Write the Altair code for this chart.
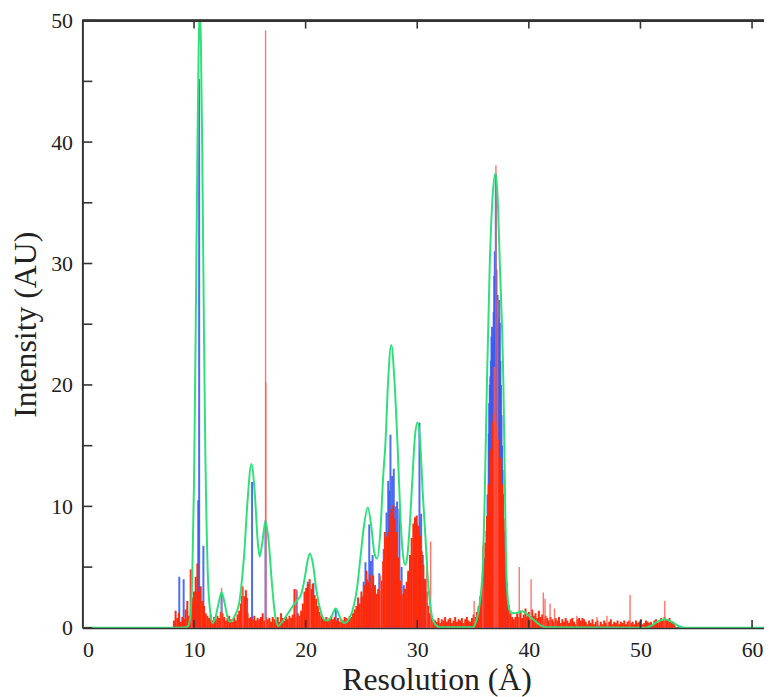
import altair as alt
import pandas as pd

# ---------------- data ----------------
# green smoothed envelope
green_x = [0, 8.5, 9.3, 9.5, 9.7, 9.85, 10.0, 10.15, 10.3, 10.42, 10.52, 10.62, 10.74, 10.89, 11.0,
           11.23, 11.44, 11.65, 11.9, 12.2, 12.47, 12.75, 13.0, 13.25, 13.6, 14.04, 14.3, 14.49,
           14.8, 15.14, 15.45, 15.7, 15.88, 16.1, 16.41, 16.7, 16.95, 17.2, 17.55, 17.9, 18.5,
           19.14, 19.58, 19.9, 20.15, 20.38, 20.65, 20.95, 21.3, 21.66, 22.0, 22.3, 22.7, 23.1,
           23.45, 23.8, 24.2, 24.6, 24.9, 25.2, 25.57, 25.9, 26.15, 26.4, 26.7, 26.95, 27.14,
           27.4, 27.67, 27.95, 28.24, 28.5, 28.7, 28.92, 29.1, 29.3, 29.55, 29.8, 30.02, 30.25,
           30.5, 30.7, 30.95, 31.15, 31.35, 31.6, 32.0, 35.0, 35.3, 35.6, 35.9, 36.05, 36.24,
           36.5, 36.75, 37.0, 37.2, 37.4, 37.72, 37.85, 37.95, 38.1, 38.3, 38.6, 39.0, 39.4,
           40.0, 40.5, 40.9, 41.5, 50.4, 51.0, 51.6, 52.2, 52.8, 53.4, 54.0, 61.07]
green_y = [0, 0, 0.05, 0.2, 1.3, 4.6, 12.0, 24.5, 39.0, 48.0, 51.0, 48.0, 39.0, 24.5, 15.5,
           4.6, 1.4, 0.4, 0.8, 2.0, 2.94, 2.0, 0.9, 0.5, 0.9, 2.0, 4.0, 6.0,
           10.5, 13.5, 11.0, 7.2, 5.86, 6.9, 8.77, 7.0, 4.0, 1.5, 0.15, 0.5, 1.3,
           2.18, 2.72, 4.0, 5.4, 6.13, 5.3, 3.2, 1.5, 0.68, 0.6, 0.9, 1.6, 0.8,
           0.4, 0.6, 1.4, 3.2, 5.7, 8.2, 9.9, 8.2, 6.2, 5.7, 8.0, 12.5, 15.0,
           20.5, 23.3, 20.5, 15.0, 9.0, 6.2, 5.2, 5.8, 8.0, 12.0, 15.8, 16.9, 15.5,
           11.0, 8.0, 4.0, 2.0, 0.8, 0.3, 0.05, 0.05, 0.6, 2.0, 5.5, 11.0, 20.0,
           30.0, 35.5, 37.4, 35.5, 30.0, 20.0, 12.0, 6.0, 2.5, 1.4, 1.2, 1.25, 1.36,
           1.0, 0.6, 0.3, 0.05, 0, 0.2, 0.55, 0.7, 0.5, 0.15, 0, 0]

# red histogram body, sampled on a 0.15 grid per segment (start, values)
red_segments = [
    (8.2, [0.6, 1.4, 0.8, 1.2, 0.5, 0.9, 0.7, 1.5, 2.2, 1.0,
           4.8, 2.5, 3.0, 4.2, 5.3, 3.0, 3.4, 2.2, 1.8, 1.2,
           1.0, 0.8, 1.1, 0.6, 0.9, 0.7, 1.0, 0.8, 1.3, 1.2,
           0.9, 0.6, 0.8, 1.0, 0.7, 0.5, 0.9, 0.6, 1.1, 1.4,
           2.0, 3.4, 2.6, 3.1, 1.2, 0.8, 0.9, 0.7, 1.0, 0.6,
           0.8, 0.7, 0.9, 1.2, 0.6, 0.9, 0.7, 0.8, 0.5, 0.9,
           0.7, 0.6, 0.9, 0.5, 1.2, 0.8, 0.6, 0.9, 0.7, 1.0,
           0.8, 1.1, 3.2, 0.9, 1.2, 1.0, 1.4, 2.0, 3.0, 3.3,
           3.6, 4.0, 3.2, 3.6, 2.7, 2.4, 1.8, 1.3, 1.0, 0.8,
           0.7, 0.9, 0.6, 0.8, 1.0, 0.7, 0.9, 0.6, 0.8, 0.5,
           0.7, 0.6, 0.9, 0.8, 0.7, 1.0, 0.9, 1.2, 1.5]),
    (24.55, [1.8, 2.5, 2.0, 3.0, 2.6, 3.5, 4.7, 3.8, 4.4, 3.3,
             4.3, 3.5, 2.8, 3.2, 3.0, 3.9, 5.5, 7.9, 7.5, 7.9,
             9.5, 9.8, 10.1, 9.0, 7.9, 5.8, 3.9, 2.6, 2.8, 3.2,
             3.8, 4.7, 6.0, 7.4, 8.6, 9.1, 9.25, 8.4, 7.6, 6.3,
             5.2, 4.0, 3.0, 1.8, 1.2, 0.9, 0.7, 0.6]),
    (31.75, [0.5, 0.8, 0.4, 0.7, 0.6, 0.9, 0.5, 0.7, 0.8, 0.4, 0.6, 0.9,
             0.5, 0.7, 0.6, 0.8, 0.4, 0.7, 0.9, 0.6, 0.5, 0.8, 1.1]),
    (35.2, [0.9, 1.3, 1.8, 2.6, 3.8, 5.3, 7.0, 9.2, 11.8, 14.7, 17.0, 17.6, 17.0,
            16.6, 15.5, 14.0, 11.8, 9.0, 6.3, 3.7, 1.9, 1.2, 0.9, 0.7, 0.9]),
    (38.95, [1.2, 0.9, 1.4, 0.8, 1.1, 1.6, 0.9, 1.3, 0.7, 1.5,
             1.0, 1.2, 0.8, 1.4, 0.9, 1.1, 0.7, 1.0, 0.8, 0.6,
             0.9, 0.7, 0.5, 0.8, 0.6, 0.9, 0.4, 0.7, 0.5, 0.8,
             0.6, 0.4, 0.7, 0.8, 0.5, 0.3, 0.7, 0.8, 0.6, 0.8,
             0.7, 0.5, 0.3, 0.6, 0.4, 0.7, 0.3, 0.5, 0.6, 0.2,
             0.5, 0.3, 0.6, 0.4, 0.2, 0.5, 0.7, 0.3, 0.5, 0.4,
             0.6, 0.3, 0.5, 0.4, 0.6, 0.3, 0.5, 0.6, 0.4, 0.5,
             0.3, 0.6, 0.4, 0.5, 0.7, 0.3, 0.4, 0.6, 0.5, 0.4,
             0.5, 0.3, 0.6, 0.7, 0.4, 0.5, 0.8, 0.6, 0.9, 0.7,
             0.6, 0.8, 0.5, 0.4, 0.3]),
]
red_step = 0.15

# red isolated spikes (x, height)
red_spike_x = [9.75, 12.47, 14.35, 16.41, 16.43, 19.14, 20.4, 26.7, 30.85, 31.2, 35.1, 35.88,
               36.9, 37.05, 37.2, 39.14, 40.2, 41.3, 41.45, 41.9, 42.3, 44.3, 46.1, 47.0,
               49.07, 52.18]
red_spike_y = [4.8, 3.3, 3.4, 49.2, 20.2, 3.2, 4.0, 4.3, 6.2, 7.1, 2.2, 6.8,
               21.5, 38.1, 27.0, 5.0, 4.0, 2.9, 2.4, 2.0, 1.6, 1.0, 0.9, 1.0,
               2.7, 2.2]

# blue bars (x, height)
blue_x = [8.68, 9.07, 9.75, 10.2, 10.38, 10.46, 10.55, 10.84, 12.47, 14.3, 14.76, 15.2, 16.41,
          19.2, 20.2, 20.7, 21.0, 22.7,
          25.0, 25.2, 25.36, 25.5, 25.7, 25.85, 26.0, 26.2, 26.6, 27.0, 27.25, 27.4, 27.5,
          27.6, 27.75, 27.9, 28.05, 28.2, 28.4, 28.6, 28.8, 29.2, 29.5, 29.7, 29.95, 30.2,
          30.35, 30.5, 30.7, 30.9, 31.1,
          35.5, 35.8, 36.0, 36.2, 36.3, 36.4, 36.45, 36.5, 36.55, 36.6, 36.65, 36.7, 36.75,
          36.8, 36.85, 36.9, 36.95, 37.04, 37.1, 37.15, 37.2, 37.25, 37.3, 37.35, 37.4,
          37.45, 37.5, 37.55, 37.6, 37.65, 37.7, 37.8, 37.95, 38.1, 39.1, 39.9, 40.3, 52.2]
blue_y = [4.2, 4.0, 3.8, 3.0, 10.5, 45.2, 3.4, 6.75, 2.9, 2.6, 2.45, 12.0, 8.85,
          3.1, 3.8, 3.7, 1.2, 1.6,
          2.5, 3.8, 5.4, 4.0, 8.5, 5.5, 6.0, 3.5, 4.5, 6.5, 9.5, 12.1, 11.3,
          15.9, 12.5, 13.1, 10.0, 10.4, 9.8, 5.0, 3.5, 4.5, 6.0, 7.5, 8.6, 16.9,
          9.4, 6.0, 4.0, 2.0, 1.0,
          1.6, 3.0, 5.7, 8.0, 11.0, 16.0, 18.5, 20.0, 20.7, 22.0, 24.0, 24.8, 23.5,
          22.5, 26.0, 29.0, 31.0, 37.4, 29.5, 26.0, 27.4, 25.5, 24.5, 27.0, 25.1,
          22.0, 20.0, 17.5, 15.0, 13.0, 11.0, 8.0, 3.5, 1.6, 0.8, 1.2, 0.8, 0.7]

# axis ticks
x_major = [0, 10, 20, 30, 40, 50, 60]
x_inner_ticks = [10, 20, 30, 40, 50, 60]
y_major = [0, 10, 20, 30, 40, 50]
y_inner_ticks = [0, 5, 10, 15, 20, 25, 30, 35, 40, 45, 50]

# ---------------- build tables ----------------
red_rows = []
for start, vals in red_segments:
    for i, v in enumerate(vals):
        red_rows.append({"x": round(start + i * red_step, 3), "y": v})
red_df = pd.DataFrame(red_rows)
spike_df = pd.DataFrame({"x": red_spike_x, "y": red_spike_y})
blue_df = pd.DataFrame({"x": blue_x, "y": blue_y})
green_df = pd.DataFrame({"x": green_x, "y": green_y})
ytick_df = pd.DataFrame({"y": y_inner_ticks})
xtick_df = pd.DataFrame({"x": x_inner_ticks})

W, H = 687, 612
XMAX = 61.07
FONT = "Liberation Serif"
AXC = "#333333"

xs = alt.Scale(domain=[0, XMAX], nice=False, zero=False)
ys = alt.Scale(domain=[0, 50], nice=False)

x_axis = alt.Axis(values=x_major, format="d", title="Resolution (Å)", grid=False,
                  ticks=False, domainColor=AXC, domainWidth=2, labelFont=FONT,
                  labelFontSize=22, labelColor="#222222", labelPadding=12,
                  titleFont=FONT, titleFontSize=32, titleFontWeight="normal",
                  titleColor="#222222", titleX=357, titleY=62,
                  titleBaseline="alphabetic", titleAnchor="middle")
y_axis = alt.Axis(values=y_major, format="d", title="Intensity (AU)", grid=False,
                  ticks=False, domainColor=AXC, domainWidth=2, labelFont=FONT,
                  labelFontSize=22, labelColor="#222222", labelPadding=10,
                  titleFont=FONT, titleFontSize=32, titleFontWeight="normal",
                  titleColor="#222222", titleX=-47, titleY=306,
                  titleBaseline="alphabetic", titleAnchor="middle")

base_x = alt.X("x:Q", scale=xs, axis=x_axis)
base_y = alt.Y("y:Q", scale=ys, axis=y_axis)

blue = alt.Chart(blue_df).mark_rule(color="#3b5cf0", strokeWidth=2, opacity=0.9, clip=True).encode(
    x=base_x, y=base_y, y2=alt.datum(0))
red = alt.Chart(red_df).mark_rule(color="#ff2a0a", strokeWidth=2, clip=True).encode(
    x=alt.X("x:Q", scale=xs), y=alt.Y("y:Q", scale=ys), y2=alt.datum(0))
spikes = alt.Chart(spike_df).mark_rule(color="#ff5a50", strokeWidth=1.4, opacity=0.85, clip=True).encode(
    x=alt.X("x:Q", scale=xs), y=alt.Y("y:Q", scale=ys), y2=alt.datum(0))
green = alt.Chart(green_df).mark_line(color="#2fe07a", strokeWidth=2, interpolate="monotone", clip=True).encode(
    x=alt.X("x:Q", scale=xs), y=alt.Y("y:Q", scale=ys))

left_ticks = alt.Chart(ytick_df).mark_rule(color=AXC, strokeWidth=1.6).encode(
    y=alt.Y("y:Q", scale=ys), x=alt.value(0), x2=alt.value(10))
top_ticks = alt.Chart(xtick_df).mark_rule(color=AXC, strokeWidth=1.6).encode(
    x=alt.X("x:Q", scale=xs), y=alt.value(0), y2=alt.value(8))
bottom_ticks = alt.Chart(xtick_df).mark_rule(color=AXC, strokeWidth=1.6).encode(
    x=alt.X("x:Q", scale=xs), y=alt.value(H), y2=alt.value(H - 8))
top_line = alt.Chart(xtick_df).mark_rule(color=AXC, strokeWidth=2).encode(
    x=alt.value(0), x2=alt.value(W), y=alt.value(0))

chart = alt.layer(blue, red, spikes, green, bottom_ticks, left_ticks, top_ticks, top_line).properties(
    width=W, height=H,
    padding={"left": 75, "top": 10, "right": 0, "bottom": 70},
    autosize="none",
    background="white",
).configure_view(stroke=None)

chart.save("out.html", embed_options={"renderer": "svg", "actions": False})
